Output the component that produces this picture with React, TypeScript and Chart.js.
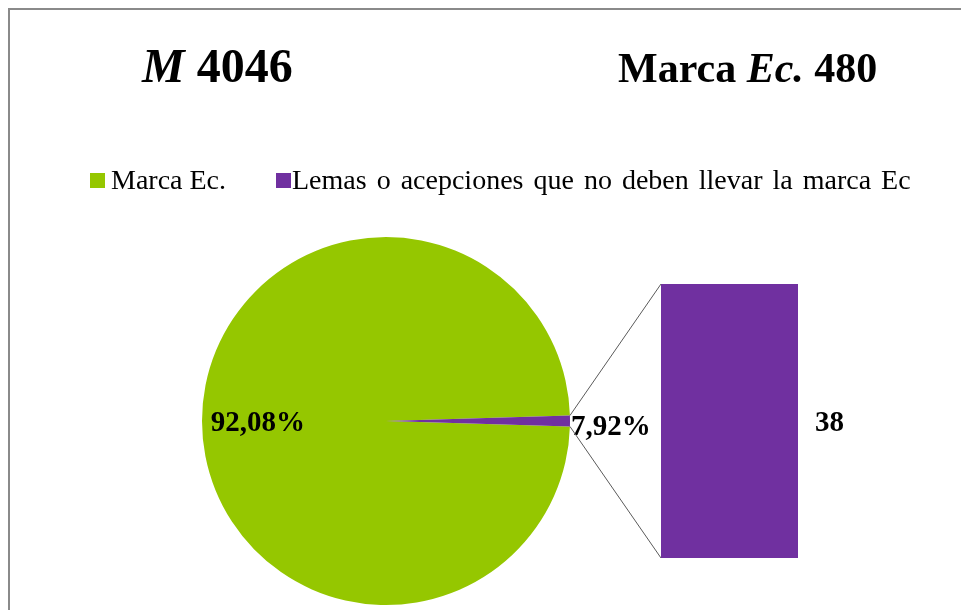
import React, { useEffect, useRef } from "react";
import { Chart, registerables } from "chart.js";

Chart.register(...registerables);

// ---- data ----
const pieLabels = ["Marca Ec.", "Lemas o acepciones que no deben llevar la marca Ec"];
const pieValues = [4008, 38];
const pieLabelTexts = ["92,08%", "7,92%"];
const barCategories = ["Lemas o acepciones que no deben llevar la marca Ec"];
const barValues = [38];
const barLabelTexts = ["38"];
const sliceColors = ["#95C700", "#7030A0"];
const titleLeftParts = ["M", " 4046"];
const titleRightParts = ["Marca ", "Ec.", " 480"];

const W = 959;
const H = 600;
const FONT = '"Liberation Serif", "Times New Roman", serif';

export default function App() {
  const pieRef = useRef<HTMLCanvasElement>(null);
  const barRef = useRef<HTMLCanvasElement>(null);

  useEffect(() => {
    const total = pieValues.reduce((a, b) => a + b, 0);
    const purpleDeg = (pieValues[1] / total) * 360;

    const pieLabelPlugin = {
      id: "pieLabels",
      afterDatasetsDraw(chart: any) {
        const arcs = chart.getDatasetMeta(0).data;
        const ctx = chart.ctx;
        ctx.save();
        ctx.font = `bold 29px ${FONT}`;
        ctx.fillStyle = "#000";
        ctx.textBaseline = "alphabetic";
        const a0 = arcs[0];
        const r = a0.outerRadius;
        ctx.textAlign = "center";
        ctx.fillText(pieLabelTexts[0], a0.x - r * 0.696, a0.y + 10);
        const a1 = arcs[1];
        ctx.textAlign = "left";
        ctx.fillText(pieLabelTexts[1], a1.x + r + 1, a1.y + 14);
        ctx.restore();
      },
    };

    const pie = new Chart(pieRef.current!, {
      type: "pie",
      data: {
        labels: pieLabels,
        datasets: [
          {
            data: pieValues,
            backgroundColor: sliceColors,
            borderWidth: 0,
            hoverOffset: 0,
          },
        ],
      },
      options: {
        responsive: false,
        animation: false,
        events: [],
        rotation: 90 + purpleDeg / 2,
        layout: { padding: { left: 192, right: 399, top: 227, bottom: 5 } },
        plugins: { legend: { display: false }, tooltip: { enabled: false } },
      },
      plugins: [pieLabelPlugin],
    } as any);

    const connectorPlugin = {
      id: "connector",
      afterDatasetsDraw(chart: any) {
        const ctx = chart.ctx;
        const arc: any = pie.getDatasetMeta(0).data[1];
        const b: any = chart.getDatasetMeta(0).data[0];
        const R = arc.outerRadius;
        const left = b.x - b.width / 2;
        const right = b.x + b.width / 2;
        ctx.save();
        ctx.strokeStyle = "#5a5a5a";
        ctx.lineWidth = 1;
        ctx.beginPath();
        ctx.moveTo(arc.x + R * Math.cos(arc.startAngle), arc.y + R * Math.sin(arc.startAngle));
        ctx.lineTo(left, b.y);
        ctx.moveTo(arc.x + R * Math.cos(arc.endAngle), arc.y + R * Math.sin(arc.endAngle));
        ctx.lineTo(left, b.base);
        ctx.stroke();
        ctx.font = `bold 29px ${FONT}`;
        ctx.fillStyle = "#000";
        ctx.textAlign = "left";
        ctx.textBaseline = "alphabetic";
        ctx.fillText(barLabelTexts[0], right + 17, (b.y + b.base) / 2 + 10);
        ctx.restore();
      },
    };

    const bar = new Chart(barRef.current!, {
      type: "bar",
      data: {
        labels: barCategories,
        datasets: [
          {
            data: barValues,
            backgroundColor: sliceColors[1],
            borderWidth: 0,
            barPercentage: 1,
            categoryPercentage: 1,
          },
        ],
      },
      options: {
        responsive: false,
        animation: false,
        events: [],
        layout: { padding: { left: 651, right: 171, top: 274, bottom: 52 } },
        scales: {
          x: { display: false },
          y: { display: false, min: 0, max: barValues[0] },
        },
        plugins: { legend: { display: false }, tooltip: { enabled: false } },
      },
      plugins: [connectorPlugin],
    } as any);

    return () => {
      bar.destroy();
      pie.destroy();
    };
  }, []);

  const abs = (extra: React.CSSProperties): React.CSSProperties => ({
    position: "absolute",
    whiteSpace: "nowrap",
    fontFamily: FONT,
    color: "#000",
    margin: 0,
    ...extra,
  });

  return (
    <div
      style={{
        position: "relative",
        width: 961,
        height: 602,
        boxSizing: "border-box",
        borderLeft: "2px solid #8a8a8a",
        borderTop: "2px solid #8a8a8a",
        overflow: "hidden",
        background: "#fff",
      }}
    >
      <canvas ref={pieRef} width={W} height={H} style={{ position: "absolute", left: 0, top: 0 }} />
      <canvas ref={barRef} width={W} height={H} style={{ position: "absolute", left: 0, top: 0 }} />
      <div style={abs({ left: 132, top: 31.8, fontSize: 48, lineHeight: "48px", fontWeight: "bold" })}>
        <i>{titleLeftParts[0]}</i>
        {titleLeftParts[1]}
      </div>
      <div style={abs({ left: 608, top: 36.8, fontSize: 42, lineHeight: "42px", fontWeight: "bold" })}>
        {titleRightParts[0]}
        <i>{titleRightParts[1]}</i>
        {titleRightParts[2]}
      </div>
      <div style={abs({ left: 80, top: 163, width: 15, height: 15, background: sliceColors[0] })} />
      <div style={abs({ left: 101, top: 156, fontSize: 28, lineHeight: "28px" })}>
        {pieLabels[0]}
      </div>
      <div style={abs({ left: 266, top: 163, width: 15, height: 15, background: sliceColors[1] })} />
      <div style={abs({ left: 282, top: 156, fontSize: 28, lineHeight: "28px", wordSpacing: "3px" })}>
        {pieLabels[1]}
      </div>
    </div>
  );
}
